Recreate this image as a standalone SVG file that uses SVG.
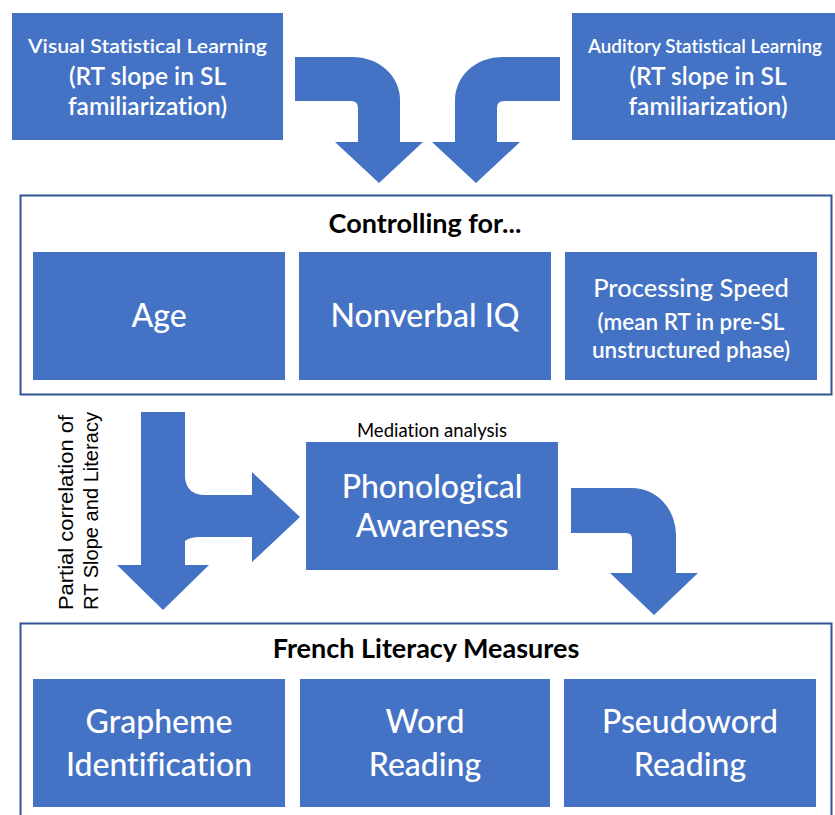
<svg xmlns="http://www.w3.org/2000/svg" width="835" height="815" viewBox="0 0 835 815">
<style>
.bg{fill:#ffffff}
.box{fill:#4472C4}
.frame{fill:none;stroke:#2F5597;stroke-width:2}
.arrow{fill:#4472C4}
text{font-family:Lato,"Open Sans","Liberation Sans",sans-serif;text-anchor:middle;font-variant-ligatures:none}
.w{fill:#ffffff}
.k{fill:#000000}
.s{font-size:19.5px;font-weight:600}
.m{font-size:24.5px;font-weight:600}
.l{font-size:32px;font-weight:500}
.ps{font-size:25.5px;font-weight:500}
.sub{font-size:22.5px;font-weight:600}
.title{font-size:27px;font-weight:700}
.med{font-size:18.5px}
.vert{font-family:"Liberation Sans",Arial,sans-serif;font-size:20px;text-anchor:start}
</style>
<rect class="bg" x="0" y="0" width="835" height="815"/>

<g id="visual-sl">
<rect class="box" x="12" y="13" width="271" height="127"/>
<text class="w s" x="147.5" y="53" textLength="239" lengthAdjust="spacingAndGlyphs">Visual Statistical Learning</text>
<text class="w m" x="147.5" y="85">(RT slope in SL</text>
<text class="w m" x="147.5" y="115">familiarization)</text>
</g>

<g id="auditory-sl">
<rect class="box" x="572" y="13" width="263" height="127"/>
<text class="w s" x="705" y="53" textLength="234" lengthAdjust="spacingAndGlyphs">Auditory Statistical Learning</text>
<text class="w m" x="708" y="85">(RT slope in SL</text>
<text class="w m" x="708" y="115">familiarization)</text>
</g>

<g id="controlling">
<rect class="frame" x="20.5" y="195.5" width="811" height="199"/>
<text class="k title" x="425" y="233">Controlling for...</text>
</g>

<g id="age">
<rect class="box" x="33" y="252" width="252" height="128"/>
<text class="w l" x="159" y="327">Age</text>
</g>

<g id="nonverbal-iq">
<rect class="box" x="299" y="252" width="252" height="128"/>
<text class="w l" x="425" y="327">Nonverbal IQ</text>
</g>

<g id="processing-speed">
<rect class="box" x="565" y="252" width="252" height="128"/>
<text class="w ps" x="691" y="297">Processing Speed</text>
<text class="w sub" x="691" y="330">(mean RT in pre-SL</text>
<text class="w sub" x="691" y="358">unstructured phase)</text>
</g>

<g id="phonological-awareness">
<text class="k med" x="432" y="437">Mediation analysis</text>
<rect class="box" x="306" y="442" width="252" height="128"/>
<text class="w l" x="432" y="498">Phonological</text>
<text class="w l" x="432" y="537">Awareness</text>
</g>

<g id="french-literacy">
<rect class="frame" x="20.5" y="623.5" width="811" height="200"/>
<text class="k title" x="426" y="658">French Literacy Measures</text>
</g>

<g id="grapheme">
<rect class="box" x="33" y="679" width="252" height="128"/>
<text class="w l" x="159" y="733">Grapheme</text>
<text class="w l" x="159" y="776">Identification</text>
</g>

<g id="word-reading">
<rect class="box" x="300" y="679" width="250" height="128"/>
<text class="w l" x="425" y="733">Word</text>
<text class="w l" x="425" y="776">Reading</text>
</g>

<g id="pseudoword-reading">
<rect class="box" x="564" y="679" width="252" height="128"/>
<text class="w l" x="690" y="733">Pseudoword</text>
<text class="w l" x="690" y="776">Reading</text>
</g>

<g id="connectors">
<path class="arrow" d="M295,57 L353,57 A47,43 0 0 1 400,100 L400,142 L423,142 L379,183 L335,142 L358,142 L358,108 Q358,101 351,101 L295,101 Z"/>
<path class="arrow" d="M560,57 L502,57 A47,43 0 0 0 455,100 L455,142 L432,142 L476,183 L520,142 L497,142 L497,108 Q497,101 504,101 L560,101 Z"/>
<path class="arrow" d="M571,488 L632,488 A44,47 0 0 1 676,535 L676,573 L698,573 L654,615 L610,573 L632,573 L632,539 Q632,533 626,533 L571,533 Z"/>
<path class="arrow" d="M141,412 L185,412 L185,478 Q187,495 205,495 L252,495 L252,472 L300,517 L252,562 L252,537 L200,537 Q190,537 185,541 L185,565 L209,565 L163,610 L117,565 L141,565 Z"/>
<text class="vert" transform="translate(73,610) rotate(-90)" textLength="195" lengthAdjust="spacingAndGlyphs">Partial correlation of</text>
<text class="vert" transform="translate(98,610) rotate(-90)" textLength="198" lengthAdjust="spacingAndGlyphs">RT Slope and Literacy</text>
</g>
</svg>
